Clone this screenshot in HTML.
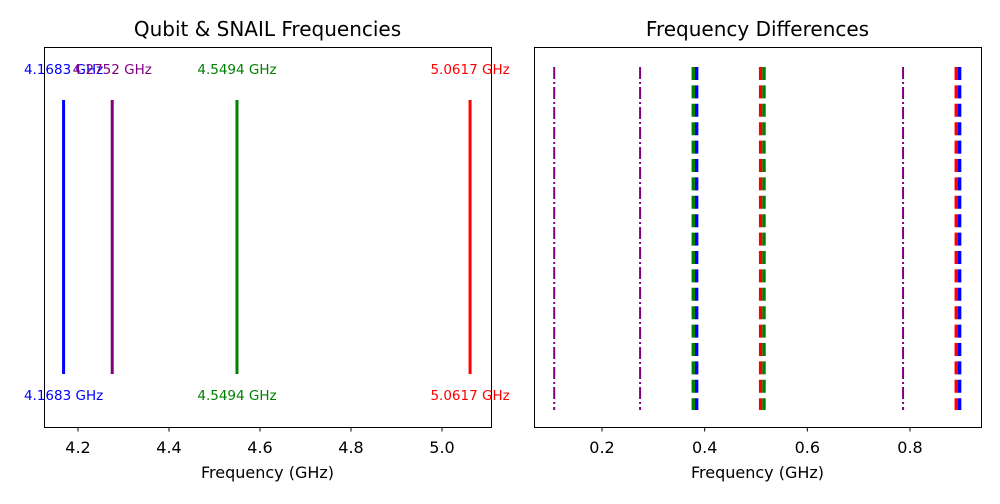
<!DOCTYPE html>
<html><head><meta charset="utf-8"><style>
body{margin:0;background:#fff;font-family:"DejaVu Sans","Liberation Sans",sans-serif}
</style></head><body>
<svg id="c" width="1000" height="500" xmlns="http://www.w3.org/2000/svg" font-family="DejaVu Sans, Liberation Sans, sans-serif"></svg>
<script>
const freqNames=['q1','snail','q2','q3'];
const freqValues=[4.1683,4.2752,4.5494,5.0617];
const freqColors=['blue','purple','green','red'];
const leftTicks=[4.2,4.4,4.6,4.8,5.0];
const rightTicks=[0.2,0.4,0.6,0.8];
const NS='http://www.w3.org/2000/svg';
const svg=document.getElementById('c');
function mk(t,a,p){const e=document.createElementNS(NS,t);for(const k in a)e.setAttribute(k,a[k]);(p||svg).appendChild(e);return e;}
function lx(v){return 78+(v-4.2)*(442-78)/0.8;}
function rx(v){return 602+(v-0.2)*(910-602)/0.6;}
function axes(x0,x1,title,ticks,sx,name){
  const g=mk('g',{});
  
  
  mk('rect',{x:x0+0.5,y:47.5,width:x1-x0,height:380,fill:'none',stroke:'#000','stroke-width':1},g);
  const t=mk('text',{x:(x0+x1)/2,y:36,'text-anchor':'middle','font-size':20},g);t.textContent=title;
  
  
  ticks.forEach(v=>{const x=sx(v);
    mk('line',{x1:x,x2:x,y1:427.5,y2:431.5,stroke:'#000'},g);
    const l=mk('text',{x:x,y:453,'text-anchor':'middle','font-size':16},g);l.textContent=v.toFixed(1);
    
    });
  const xl=mk('text',{x:(x0+x1)/2,y:478,'text-anchor':'middle','font-size':16},g);xl.textContent='Frequency (GHz)';
  
  
  return g;
}
const gl=axes(44,491,'Qubit & SNAIL Frequencies',leftTicks,lx,'left-plot');
freqValues.forEach((v,i)=>{const x=lx(v);
  const ln=mk('line',{x1:x,x2:x,y1:100,y2:374,stroke:freqColors[i],'stroke-width':3},gl);
  
  
  const lab=v.toFixed(4)+' GHz';
  const t1=mk('text',{x:x,y:74,'text-anchor':'middle','font-size':13.5,fill:freqColors[i]},gl);t1.textContent=lab;
  
  
  if(freqNames[i]!=='snail'){const t2=mk('text',{x:x,y:400,'text-anchor':'middle','font-size':13.5,fill:freqColors[i]},gl);t2.textContent=lab;
  
  }
});
const gr=axes(534,981,'Frequency Differences',rightTicks,rx,'right-plot');
for(let i=0;i<4;i++)for(let j=i+1;j<4;j++){
  const d=freqValues[j]-freqValues[i];const x=rx(d);
  const snail=freqNames[i]==='snail'||freqNames[j]==='snail';
  if(snail){
    const l=mk('line',{x1:x,x2:x,y1:67,y2:410,stroke:'purple','stroke-width':2,'stroke-dasharray':'12 3 2 3'},gr);
    
    
  }else{
    const lc=freqColors[j];
    const rc=freqColors[i];
    const a=mk('line',{x1:x-1.7,x2:x-1.7,y1:67,y2:410,stroke:lc,'stroke-width':3.4,'stroke-dasharray':'13 5.4'},gr);
    
    
    const b=mk('line',{x1:x+1.7,x2:x+1.7,y1:67,y2:410,stroke:rc,'stroke-width':3.4,'stroke-dasharray':'13 5.4'},gr);
    
    
  }
}
</script>
</body></html>
